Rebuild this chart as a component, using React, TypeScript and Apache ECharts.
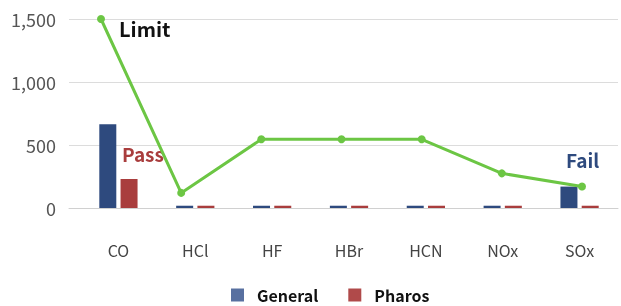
import React, { useEffect, useRef } from "react";
import * as echarts from "echarts";

const categories = ["CO", "HCl", "HF", "HBr", "HCN", "NOx", "SOx"];
const generalValues = [665, 18, 18, 18, 18, 18, 170];
const pharosValues = [230, 18, 18, 18, 18, 18, 18];
const limitValues = [1500, 120, 545, 545, 545, 275, 170];
const yTicks = [0, 500, 1000, 1500];

const FONT = "'Noto Sans CJK KR', 'Noto Sans', sans-serif";

export default function App() {
  const ref = useRef<HTMLDivElement>(null);
  useEffect(() => {
    if (!ref.current) return;
    const chart = echarts.init(ref.current, undefined, { renderer: "svg" });
    const yMin = yTicks[0];
    const yMax = yTicks[yTicks.length - 1];
    chart.setOption({
      animation: false,
      textStyle: { fontFamily: FONT },
      grid: [
        { left: 69, right: 3, top: 19, bottom: 98 },
        { left: 80, right: 3, top: 19, bottom: 98 },
        { left: 101, right: 39, top: 19, bottom: 98 },
      ],
      legend: {
        bottom: -2,
        left: 226,
        itemWidth: 13,
        itemHeight: 13,
        itemGap: 30,
        icon: "rect",
        textStyle: {
          fontSize: 16,
          fontWeight: "bold",
          color: "#111",
          fontFamily: FONT,
          padding: [0, 0, 0, 8],
        },
        data: [
          { name: "General", itemStyle: { color: "#5870a0" } },
          { name: "Pharos", itemStyle: { color: "#b04a4a" } },
        ],
      },
      xAxis: [
        {
          gridIndex: 0,
          type: "category",
          data: categories,
          axisTick: { show: false },
          axisLabel: { show: false },
          axisLine: { lineStyle: { color: "#d0d0d0", width: 1 } },
        },
        {
          gridIndex: 1,
          type: "category",
          data: categories,
          axisTick: { show: false },
          axisLine: { show: false },
          axisLabel: { fontSize: 16, color: "#444", margin: 34, fontFamily: FONT },
        },
        {
          gridIndex: 2,
          type: "category",
          data: categories,
          boundaryGap: false,
          show: false,
        },
      ],
      yAxis: [
        {
          gridIndex: 0,
          type: "value",
          min: yMin,
          max: yMax,
          interval: 500,
          axisLabel: {
            fontSize: 18,
            color: "#555",
            margin: 13,
            fontFamily: FONT,
            formatter: (v: number) => v.toLocaleString("en-US"),
          },
          splitLine: { lineStyle: { color: "#dcdcdc" } },
        },
        { gridIndex: 1, type: "value", min: yMin, max: yMax, interval: 500, show: false },
        { gridIndex: 2, type: "value", min: yMin, max: yMax, interval: 500, show: false },
      ],
      series: [
        {
          name: "General",
          type: "bar",
          xAxisIndex: 1,
          yAxisIndex: 1,
          data: generalValues,
          barWidth: 17,
          barGap: "25%",
          itemStyle: { color: "#2e4a7e" },
        },
        {
          name: "Pharos",
          type: "bar",
          xAxisIndex: 1,
          yAxisIndex: 1,
          data: pharosValues,
          barWidth: 17,
          itemStyle: { color: "#a93d3d" },
        },
        {
          name: "Limit",
          type: "line",
          xAxisIndex: 2,
          yAxisIndex: 2,
          data: limitValues,
          symbol: "circle",
          symbolSize: 8,
          lineStyle: { color: "#6cc644", width: 3 },
          itemStyle: { color: "#6cc644" },
        },
      ],
      graphic: [
        {
          type: "text",
          left: 119,
          top: 18,
          style: { text: "Limit", fontSize: 20, fontWeight: "bold", fill: "#111", fontFamily: FONT },
        },
        {
          type: "text",
          left: 122,
          top: 144,
          style: { text: "Pass", fontSize: 19, fontWeight: "bold", fill: "#a93d3d", fontFamily: FONT },
        },
        {
          type: "text",
          left: 566,
          top: 150,
          style: { text: "Fail", fontSize: 19, fontWeight: "bold", fill: "#2e4a7e", fontFamily: FONT },
        },
      ],
    });
    return () => chart.dispose();
  }, []);
  return (
    <div
      ref={ref}
      style={{ position: "fixed", left: 0, top: 0, width: 621, height: 306 }}
    />
  );
}
